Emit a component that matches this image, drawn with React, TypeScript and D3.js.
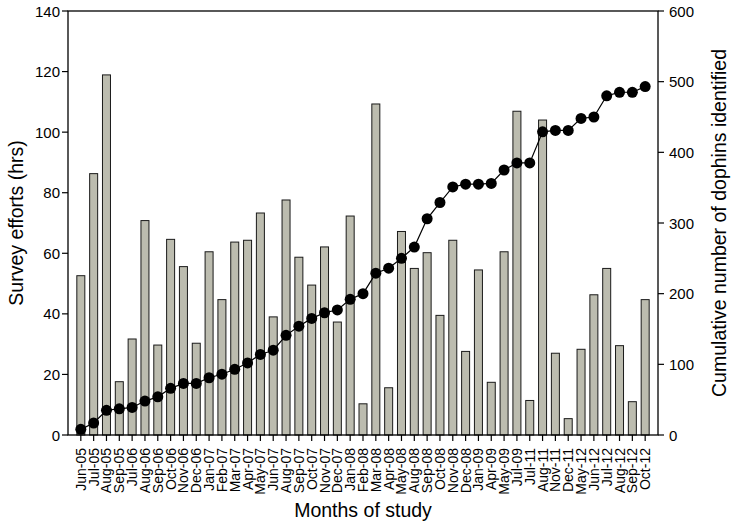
import React from "react";
import * as d3 from "d3";

const categories = [
  "Jun-05","Jul-05","Aug-05","Sep-05","Jul-06","Aug-06","Sep-06","Oct-06","Nov-06","Dec-06",
  "Jan-07","Feb-07","Mar-07","Apr-07","May-07","Jun-07","Aug-07","Sep-07","Oct-07","Nov-07",
  "Dec-07","Jan-08","Feb-08","Mar-08","Apr-08","May-08","Aug-08","Sep-08","Oct-08","Nov-08",
  "Dec-08","Jan-09","Apr-09","May-09","Jul-09","Jul-11","Aug-11","Nov-11","Dec-11","May-12",
  "Jun-12","Jul-12","Aug-12","Sep-12","Oct-12",
];

const surveyEffort = [
  52.6, 86.3, 118.9, 17.6, 31.7, 70.8, 29.7, 64.6, 55.6, 30.3,
  60.5, 44.7, 63.7, 64.3, 73.3, 39.0, 77.6, 58.7, 49.5, 62.1,
  37.3, 72.3, 10.3, 109.3, 15.6, 67.2, 55.0, 60.2, 39.5, 64.3,
  27.6, 54.5, 17.4, 60.5, 106.9, 11.4, 104.0, 27.0, 5.4, 28.3,
  46.3, 55.0, 29.5, 11.0, 44.7,
];

const cumulativeDolphins = [
  8, 17, 35, 37, 39, 48, 54, 66, 73, 73,
  81, 86, 93, 102, 114, 120, 141, 154, 165, 173,
  177, 192, 200, 229, 236, 250, 266, 306, 329, 351,
  355, 355, 356, 375, 385, 385, 429, 431, 431, 448,
  450, 480, 485, 485, 493,
];

const leftTicks = [0, 20, 40, 60, 80, 100, 120, 140];
const rightTicks = [0, 100, 200, 300, 400, 500, 600];

const W = 731;
const H = 525;
const L = 68, R = 658, T = 11, B = 435;
const FONT = "'Liberation Sans', Arial, Helvetica, sans-serif";

export default function App() {
  const x = d3.scaleLinear().domain([0, categories.length + 1]).range([L, R]);
  const yL = d3.scaleLinear().domain([0, 140]).range([B, T]);
  const yR = d3.scaleLinear().domain([0, 600]).range([B, T]);
  const barW = 8;
  const line = d3
    .line<number>()
    .x((_, i) => x(i + 1))
    .y((d) => yR(d));

  return (
    <svg
      width={W}
      height={H}
      style={{ position: "absolute", left: 0, top: 0, background: "#fff" }}
      fontFamily={FONT}
    >
      {/* bars */}
      {surveyEffort.map((v, i) => (
        <rect
          key={"b" + i}
          x={x(i + 1) - barW / 2}
          y={yL(v)}
          width={barW}
          height={B - yL(v)}
          fill="#bcbcaf"
          stroke="#1a1a1a"
          strokeWidth={1}
        />
      ))}
      {/* line */}
      <path d={line(cumulativeDolphins) || ""} fill="none" stroke="#000" strokeWidth={1.2} />
      {cumulativeDolphins.map((v, i) => (
        <circle key={"c" + i} cx={x(i + 1)} cy={yR(v)} r={5.5} fill="#000" />
      ))}
      {/* frame */}
      <rect x={L} y={T} width={R - L} height={B - T} fill="none" stroke="#000" strokeWidth={1.3} />
      {/* left axis */}
      {leftTicks.map((t) => (
        <g key={"l" + t}>
          <line x1={L - 6} x2={L} y1={yL(t)} y2={yL(t)} stroke="#000" strokeWidth={1.2} />
          <text x={L - 8} y={yL(t)} textAnchor="end" dominantBaseline="central" fontSize={15}>
            {t}
          </text>
        </g>
      ))}
      {/* right axis */}
      {rightTicks.map((t) => (
        <g key={"r" + t}>
          <line x1={R} x2={R + 6} y1={yR(t)} y2={yR(t)} stroke="#000" strokeWidth={1.2} />
          <text x={R + 11} y={yR(t)} textAnchor="start" dominantBaseline="central" fontSize={15}>
            {t}
          </text>
        </g>
      ))}
      {/* bottom axis */}
      {categories.map((c, i) => (
        <g key={"x" + i}>
          <line x1={x(i + 1)} x2={x(i + 1)} y1={B} y2={B + 6} stroke="#000" strokeWidth={1.2} />
          <text
            transform={`translate(${x(i + 1)},${B + 13}) rotate(-90)`}
            textAnchor="end"
            dominantBaseline="central"
            fontSize={14}
          >
            {c}
          </text>
        </g>
      ))}
      {/* axis titles */}
      <text x={(L + R) / 2} y={517} textAnchor="middle" fontSize={19.5}>
        Months of study
      </text>
      <text
        transform={`translate(16,${(T + B) / 2}) rotate(-90)`}
        textAnchor="middle"
        dominantBaseline="central"
        fontSize={19.5}
      >
        Survey efforts (hrs)
      </text>
      <text
        transform={`translate(719,${(T + B) / 2}) rotate(-90)`}
        textAnchor="middle"
        dominantBaseline="central"
        fontSize={19.5}
      >
        Cumulative number of dophins identified
      </text>
    </svg>
  );
}
